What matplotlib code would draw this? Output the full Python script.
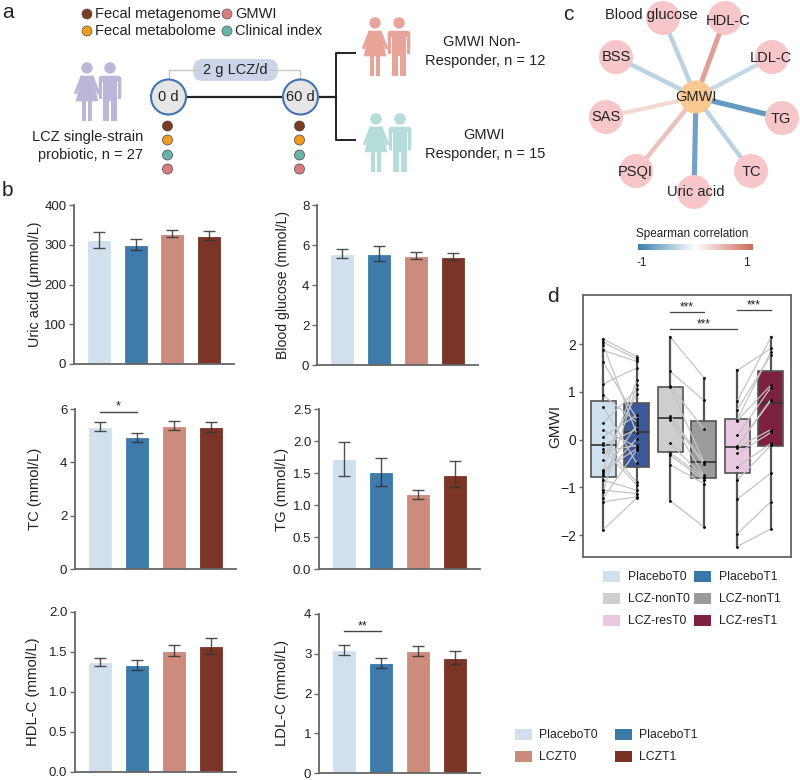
import numpy as np
import matplotlib
matplotlib.use("Agg")
import matplotlib.pyplot as plt
from matplotlib.colors import LinearSegmentedColormap
from matplotlib.patches import Circle, FancyBboxPatch, Polygon, Rectangle

plt.rcParams['font.family'] = ['Liberation Sans', 'DejaVu Sans']
plt.rcParams['axes.unicode_minus'] = True

# bar panels: mean, upper end of the error bar, lower end
ua_mean = [310, 297, 325, 320]
ua_hi = [333, 315, 337, 335]
ua_lo = [293, 286, 320, 311]
bg_mean = [5.52, 5.52, 5.41, 5.37]
bg_hi = [5.82, 5.97, 5.65, 5.62]
bg_lo = [5.33, 5.20, 5.30, 5.27]
tc_mean = [5.30, 4.90, 5.32, 5.28]
tc_hi = [5.53, 5.10, 5.55, 5.52]
tc_lo = [5.17, 4.77, 5.20, 5.13]
tg_mean = [1.70, 1.50, 1.15, 1.46]
tg_hi = [1.99, 1.74, 1.24, 1.69]
tg_lo = [1.46, 1.30, 1.09, 1.28]
hdl_mean = [1.36, 1.33, 1.50, 1.56]
hdl_hi = [1.43, 1.40, 1.59, 1.67]
hdl_lo = [1.32, 1.28, 1.45, 1.48]
ldl_mean = [3.07, 2.74, 3.04, 2.86]
ldl_hi = [3.23, 2.90, 3.19, 3.06]
ldl_lo = [2.97, 2.64, 2.94, 2.73]
bar_groups = ['PlaceboT0', 'PlaceboT1', 'LCZT0', 'LCZT1']

# network: spearman r of each index with GMWI
net_names = ['Blood glucose', 'HDL-C', 'LDL-C', 'TG', 'TC', 'Uric acid', 'PSQI', 'SAS', 'BSS']
net_r = [-0.35, 0.62, -0.30, -0.78, -0.35, -0.72, 0.40, 0.25, -0.35]

# box panel, paired values (T0[i] joins T1[i])
placebo_t0 = [2.11, 2.04, 1.99, 1.87, 1.62, 1.17, 0.93, 0.69, 0.35, 0.20, 0.06, -0.08, -0.12,
              -0.19, -0.25, -0.43, -0.63, -0.65, -0.71, -0.75, -0.85, -1.06, -1.09, -1.23, -1.30, -1.89]
placebo_t1 = [1.74, 1.69, 0.13, 1.64, 0.44, 1.50, 0.37, -0.49, 1.05, -0.15, 0.51, -0.89, 0.22,
              -0.95, -0.12, 0.96, 1.24, -0.19, 0.30, 0.02, -1.06, -1.13, 1.14, -0.22, -1.20, -1.23]
non_t0 = [2.15, 1.43, 1.13, 1.10, 0.50, 0.46, 0.42, -0.08, -0.28, -0.33, -0.53, -1.28]
non_t1 = [1.30, 0.82, 0.22, -0.46, -0.47, -0.52, -0.75, -0.78, -0.80, -0.85, -0.92, -1.83]
res_t0 = [1.45, 0.81, 0.63, 0.42, 0.40, 0.09, -0.13, -0.15, -0.17, -0.29, -0.57, -0.85, -1.25, -1.97, -2.24]
res_t1 = [1.91, 2.14, 1.77, 1.84, 1.14, 1.09, 0.84, 0.82, 0.21, 0.15, -0.08, -0.12, -0.70, -1.30, -1.87]

box_names = ['PlaceboT0', 'PlaceboT1', 'LCZ-nonT0', 'LCZ-nonT1', 'LCZ-resT0', 'LCZ-resT1']
box_q1 = [-0.78, -0.58, -0.26, -0.80, -0.71, -0.14]
box_med = [-0.12, 0.15, 0.45, -0.46, -0.15, 0.77]
box_q3 = [0.80, 0.77, 1.10, 0.38, 0.43, 1.44]
box_lo = [-1.89, -1.23, -1.28, -1.83, -2.24, -1.87]
box_hi = [2.11, 1.75, 2.15, 1.30, 1.45, 2.14]

bar_colors = ['#d0e0ee', '#3a78a8', '#cc8a78', '#773122']
box_colors = ['#cfe0ee', '#3b5998', '#cfcdce', '#9b9b9b', '#e8c8e0', '#7e2140']
legend_colors = ['#cfe0ee', '#3a78a8', '#cfcdce', '#9b9b9b', '#e8c8e0', '#7e2140']
txt = '#222222'
line_gray = '#666666'

W, H = 800, 780
fig = plt.figure(figsize=(W / 100, H / 100), dpi=100, facecolor='white')


def px_axes(x0, y0, x1, y1):
    return fig.add_axes([x0 / W, 1 - y1 / H, (x1 - x0) / W, (y1 - y0) / H])


# pixel canvas for the two diagrams, legends and panel letters
cv = fig.add_axes([0, 0, 1, 1])
cv.set_xlim(0, W)
cv.set_ylim(H, 0)
cv.axis('off')


def label(x, y, s, size=10.5, ha='center', **kw):
    cv.text(x, y, s, fontsize=size, ha=ha, va='center', color=txt, **kw)


def person(cx, top, h, color, female):
    k = h / 60.0
    cv.add_patch(Circle((cx, top + 6 * k), 5.8 * k, fc=color, ec='none'))

    def pts(p):
        return [(cx + a * k, top + b * k) for a, b in p]
    if female:
        cv.add_patch(Polygon(pts([(-6.5, 14), (6.5, 14), (8, 25), (11.5, 40), (-11.5, 40), (-8, 25)]), fc=color, ec='none'))
        cv.add_patch(Polygon(pts([(-6.5, 14), (-3.5, 14), (-10.5, 33), (-13.5, 32)]), fc=color, ec='none'))
        cv.add_patch(Polygon(pts([(6.5, 14), (3.5, 14), (10.5, 33), (13.5, 32)]), fc=color, ec='none'))
        cv.add_patch(Rectangle((cx - 5.2 * k, top + 39 * k), 4.2 * k, 21 * k, fc=color, ec='none'))
        cv.add_patch(Rectangle((cx + 1 * k, top + 39 * k), 4.2 * k, 21 * k, fc=color, ec='none'))
    else:
        cv.add_patch(FancyBboxPatch((cx - 11.5 * k, top + 14 * k), 23 * k, 22 * k,
                                    boxstyle='round,pad=0,rounding_size=%f' % (3 * k), fc=color, ec='none'))
        cv.add_patch(Rectangle((cx - 8.3 * k, top + 20 * k), 0.9 * k, 16 * k, fc='white', ec='none'))
        cv.add_patch(Rectangle((cx + 7.4 * k, top + 20 * k), 0.9 * k, 16 * k, fc='white', ec='none'))
        cv.add_patch(Rectangle((cx - 7.4 * k, top + 30 * k), 14.8 * k, 30 * k, fc=color, ec='none'))
        cv.add_patch(Rectangle((cx - 0.6 * k, top + 40 * k), 1.2 * k, 20 * k, fc='white', ec='none'))
        cv.add_patch(Rectangle((cx - 11.5 * k, top + 30 * k), 3.2 * k, 8 * k, fc=color, ec='none'))
        cv.add_patch(Rectangle((cx + 8.3 * k, top + 30 * k), 3.2 * k, 8 * k, fc=color, ec='none'))


# panel a
label(2, 12, 'a', size=15, ha='left')
label(2, 190, 'b', size=15, ha='left')
label(568, 15, 'c', size=15, ha='center')
label(553, 297, 'd', size=15, ha='center')

omics_colors = ['#7a3b1e', '#f09a1e', '#67b5a6', '#dc7c80']
for (x, y), c, s in zip([(87, 14), (87, 31), (227, 14), (227, 31)],
                        [omics_colors[0], omics_colors[1], omics_colors[3], omics_colors[2]],
                        ['Fecal metagenome', 'Fecal metabolome', 'GMWI', 'Clinical index']):
    cv.add_patch(Circle((x, y), 5, fc=c, ec='#555555', lw=0.5))
    label(x + 8, y, s, ha='left')

person(87, 62, 59, '#bdb6d8', True)
person(110, 62, 59, '#bdb6d8', False)
person(375, 17, 59, '#e8a498', True)
person(399, 17, 59, '#e8a498', False)
person(376, 113, 59, '#b4dcd8', True)
person(400, 113, 59, '#b4dcd8', False)

label(143, 137, 'LCZ single-strain', ha='right')
label(143, 155, 'probiotic, n = 27', ha='right')
label(443, 42, 'GMWI Non-', ha='left')
label(425, 61, 'Responder, n = 12', ha='left')
label(463, 135, 'GMWI', ha='left')
label(425, 154, 'Responder, n = 15', ha='left')

cv.plot([169, 169, 200], [80, 70, 70], color='#c8c8c8', lw=1)
cv.plot([270, 300, 300], [70, 70, 80], color='#c8c8c8', lw=1)
cv.add_patch(FancyBboxPatch((193, 59), 85, 22, boxstyle='round,pad=0,rounding_size=10', fc='#ccd5e8', ec='none'))
label(235, 70, '2 g LCZ/d')
cv.plot([168, 301], [97, 97], color='#222222', lw=1.6)
cv.plot([301, 336], [97, 97], color='#222222', lw=1.6)
cv.plot([355, 336, 336, 355], [53, 53, 140, 140], color='#222222', lw=1.4)
for x, s in [(168.5, '0 d'), (300.5, '60 d')]:
    cv.add_patch(Circle((x, 97), 17.5, fc='#e6e6e6', ec='#3f74b5', lw=1.5, zorder=3))
    cv.text(x, 97, s, fontsize=10.5, ha='center', va='center', color=txt, zorder=4)
    for y, c in zip([126, 140, 155, 169], omics_colors):
        cv.add_patch(Circle((x - 1, y), 5, fc=c, ec='#444444', lw=0.5))

# panel c
net_cmap = LinearSegmentedColormap.from_list('sp', ['#3b7fb0', '#ffffff', '#cd6a58'])
cx, cy = 696, 97
node_xy = [(663, 18), (725, 18), (772, 57), (782, 118), (751, 171), (694, 192), (636, 171), (606, 117), (616, 57)]
text_xy = [(651, 15), (728, 21), (771, 58), (781, 119), (751, 172), (696, 192), (635, 172), (606, 117), (616, 57)]
for (x, y), r in zip(node_xy, net_r):
    cv.plot([cx, x], [cy, y], color=net_cmap((r + 1) / 2), lw=2.7 + 1.4 * abs(r), zorder=1, solid_capstyle='butt')
    cv.add_patch(Circle((x, y), 17, fc='#f7c6c8', ec='none', zorder=2))
cv.add_patch(Circle((cx, cy), 16.5, fc='#f9c78f', ec='none', zorder=2))
for (x, y), s in zip(text_xy, net_names):
    cv.text(x, y, s, fontsize=10.5, ha='center', va='center', color=txt, zorder=3)
cv.text(696, 97, 'GMWI', fontsize=10.5, ha='center', va='center', color=txt, zorder=3)
label(692, 234, 'Spearman correlation', size=8.5)
label(642, 263, '-1', size=8.5)
label(746, 263, '1', size=8.5)
cb = px_axes(638, 244, 753, 250)
cb.imshow(np.linspace(0, 1, 256)[None, :], aspect='auto', cmap=net_cmap)
cb.axis('off')


# panel b
def bar_panel(box, mean, hi, lo, ymax, ticks, fmt, ylab, lab_x, lab_size):
    ax = px_axes(*box)
    xs = np.arange(len(mean))
    ax.bar(xs, mean, width=0.6, color=bar_colors, edgecolor=bar_colors, lw=0.6, alpha=0.98)
    err = [np.array(mean) - np.array(lo), np.array(hi) - np.array(mean)]
    ax.errorbar(xs, mean, yerr=err, fmt='none', ecolor='#333333', elinewidth=1, capsize=4.5, capthick=1, alpha=0.85)
    ax.set_xlim(-0.68, 3.68)
    ax.set_ylim(0, ymax)
    ax.set_xticks([])
    ax.set_yticks(ticks)
    ax.set_yticklabels([fmt % t for t in ticks], fontsize=9.5, color=txt)
    ax.tick_params(axis='y', length=3.5, width=1, color=line_gray, pad=2)
    ax.set_ylabel(ylab, fontsize=lab_size, color=txt, va='center')
    ax.yaxis.set_label_coords((lab_x - box[0]) / (box[2] - box[0]), 0.5)
    for s in ['top', 'right']:
        ax.spines[s].set_visible(False)
    for s in ['left', 'bottom']:
        ax.spines[s].set_color(line_gray)
        ax.spines[s].set_linewidth(1.3)
    ax.patch.set_alpha(0)
    return ax


bar_panel((74, 205, 234, 364), ua_mean, ua_hi, ua_lo, 400, [0, 100, 200, 300, 400], '%d', 'Uric acid (μmmol/L)', 35, 10.4)
bar_panel((317, 205, 478, 365), bg_mean, bg_hi, bg_lo, 8, [0, 2, 4, 6, 8], '%d', 'Blood glucose (mmol/L)', 283, 10.1)
ax3 = bar_panel((75, 409, 236, 569), tc_mean, tc_hi, tc_lo, 6, [0, 2, 4, 6], '%d', 'TC (mmol/L)', 35, 10.6)
bar_panel((319, 409, 480, 569), tg_mean, tg_hi, tg_lo, 2.5, [0, 0.5, 1, 1.5, 2, 2.5], '%.1f', 'TG (mmol/L)', 282, 10.6)
bar_panel((75, 612, 236, 772), hdl_mean, hdl_hi, hdl_lo, 2, [0, 0.5, 1, 1.5, 2], '%.1f', 'HDL-C (mmol/L)', 33, 10.7)
ax6 = bar_panel((319, 614, 480, 773), ldl_mean, ldl_hi, ldl_lo, 4, [0, 1, 2, 3, 4], '%d', 'LDL-C (mmol/L)', 282, 10.7)

ax3.plot([0, 1], [5.89, 5.89], color='#444444', lw=1, clip_on=False)
ax3.text(0.5, 5.86, '*', ha='center', va='bottom', fontsize=9, color=txt)
ax6.plot([0, 1], [3.57, 3.57], color='#444444', lw=1, clip_on=False)
ax6.text(0.5, 3.54, '**', ha='center', va='bottom', fontsize=9, color=txt)

for (x, y), c, s in zip([(515, 729), (615, 729), (515, 751), (615, 751)], bar_colors, bar_groups):
    cv.add_patch(Rectangle((x, y), 17, 11, fc=c, ec='none'))
    label(x + 24, y + 5.5, s, size=8.8, ha='left')

# panel d
axd = px_axes(583, 295, 791, 557)
stats = []
for i in range(6):
    stats.append({'med': box_med[i], 'q1': box_q1[i], 'q3': box_q3[i], 'whislo': box_lo[i], 'whishi': box_hi[i], 'fliers': []})
res = axd.bxp(stats, positions=np.arange(1, 7), widths=0.75, patch_artist=True, showcaps=False, showfliers=False,
              whiskerprops={'color': '#555555', 'lw': 1.6},
              boxprops={'edgecolor': '#555555', 'lw': 1.2},
              medianprops={'color': '#333333', 'lw': 1.2})
for b, c in zip(res['boxes'], box_colors):
    b.set_facecolor(c)

pairs = [(1, placebo_t0, placebo_t1), (3, non_t0, non_t1), (5, res_t0, res_t1)]
for p, a, b in pairs:
    for v0, v1 in zip(a, b):
        axd.plot([p, p + 1], [v0, v1], color='#c4c4c4', lw=0.9, zorder=4)
    axd.scatter(np.full(len(a), p), a, s=4, color='black', zorder=5, lw=0)
    axd.scatter(np.full(len(b), p + 1), b, s=4, color='black', zorder=5, lw=0)

axd.set_xlim(0.4, 6.6)
axd.set_ylim(-2.46, 3.03)
axd.set_xticks([])
axd.set_yticks([-2, -1, 0, 1, 2])
axd.set_yticklabels(['−2', '−1', '0', '1', '2'], fontsize=10, color=txt)
axd.tick_params(axis='y', length=3, width=1, color=line_gray, pad=2)
axd.set_ylabel('GMWI', fontsize=11, color=txt, va='center')
axd.yaxis.set_label_coords((555 - 583) / 208, 0.5)
for s in axd.spines.values():
    s.set_color(line_gray)
    s.set_linewidth(1.3)
axd.patch.set_alpha(0)
for x0, x1, y in [(3, 4, 2.67), (5, 6, 2.71), (3, 5, 2.31)]:
    axd.plot([x0, x1], [y, y], color='#444444', lw=0.9)
    axd.text((x0 + x1) / 2, y - 0.03, '***', ha='center', va='bottom', fontsize=8.5, color=txt)

for (x, y), c, s in zip([(603, 571), (694, 571), (603, 593), (694, 593), (603, 615), (694, 615)], legend_colors, box_names):
    cv.add_patch(Rectangle((x, y), 17, 11, fc=c, ec='none'))
    label(x + 25, y + 6, s, size=8.8, ha='left')

fig.savefig('out.png', dpi=100)
